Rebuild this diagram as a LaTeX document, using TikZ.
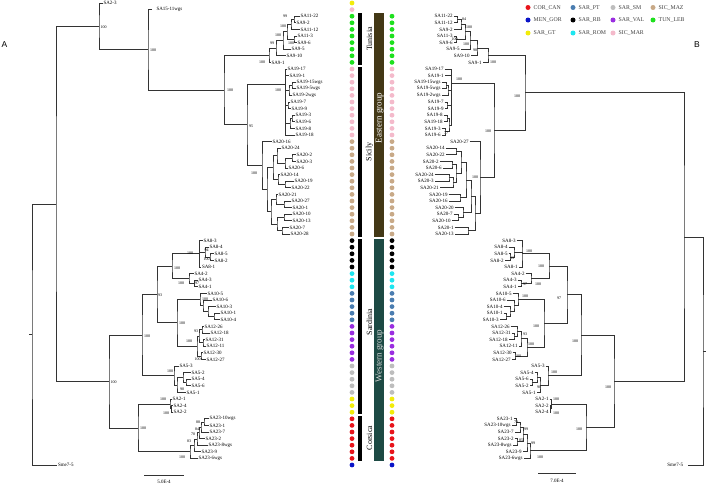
\documentclass[tikz,border=0pt]{standalone}
\usepackage{fontspec}
\setmainfont{Liberation Serif}
\newfontfamily\sansf{Liberation Sans}
\usetikzlibrary{calc}
\definecolor{corcan}{HTML}{E8141B}
\definecolor{mengor}{HTML}{0A14C8}
\definecolor{sargt}{HTML}{F2EC0A}
\definecolor{sarpt}{HTML}{4A7DB0}
\definecolor{sarrb}{HTML}{000000}
\definecolor{sarrom}{HTML}{1EE6F0}
\definecolor{sarsm}{HTML}{BDBDBD}
\definecolor{sarval}{HTML}{9A2EE0}
\definecolor{sicmar}{HTML}{F4BACB}
\definecolor{sicmaz}{HTML}{C8A987}
\definecolor{tunleb}{HTML}{1EE01E}
\definecolor{eastg}{HTML}{433816}
\definecolor{westg}{HTML}{1D4A44}
\tikzset{
  branch/.style={draw=black!80, line width=0.85pt},
  tipl/.style={anchor=west, inner sep=0.8pt, font=\fontsize{5}{5}\selectfont},
  tipr/.style={anchor=east, inner sep=0.8pt, font=\fontsize{5}{5}\selectfont},
  bsl/.style={anchor=west, inner sep=0pt, font=\fontsize{4}{4}\selectfont},
  barlab/.style={rotate=90, inner sep=0pt, font=\fontsize{8}{8}\selectfont},
  grplab/.style={rotate=90, inner sep=0pt, font=\fontsize{9}{9}\selectfont},
  legtxt/.style={anchor=west, inner sep=0pt, text=black!75, font=\fontsize{5.8}{5.8}\selectfont},
}
\newcommand\tipA[4]{\coordinate (#1) at (#2,{3+6.6*#3}); \node[tipl] at (#1) {#4};}
\newcommand\tipB[4]{\coordinate (#1) at (#2,{16.2+6.6*#3}); \node[tipr] at (#1) {#4};}
\newcommand\tclade[4]{\coordinate (tmpm) at ($(#3)!0.5!(#4)$); \coordinate (tmpx) at (#2,0);
  \coordinate (#1) at (tmpx |- tmpm); \draw[branch] (#3) -| (#1) |- (#4);}
\newcommand\bsv[3]{\node[bsl] at (#1,#2) {#3};}
\newcommand\dotrun[5]{\foreach \k in {1,...,#4} \fill[#5] (#1,{#2+6.6*(#3+\k-1)}) circle[radius=2.4pt];}
\begin{document}
\begin{tikzpicture}[x=1pt,y=-1pt]
\useasboundingbox (0,0) rectangle (707,485);
\fill[white] (0,0) rectangle (707,485);
% ================= Tree A =================
\tipA{a0}{102.5}{0}{SA2-3}
\coordinate (a1) at (152,9.6); \node[tipl] at (155.5,9.6) {SA15-11wgs};
\tipA{a2}{299.5}{2}{SA11-22}
\tipA{a3}{295.5}{3}{SA9-2}
\tipA{a4}{299.5}{4}{SA11-12}
\tipA{a5}{296.5}{5}{SA11-3}
\tipA{a6}{296.5}{6}{SA9-6}
\tipA{a7}{290.5}{7}{SA9-5}
\tipA{a8}{285.5}{8}{SA9-10}
\tipA{a9}{270.5}{9}{SA9-1}
\tipA{a10}{286.5}{10}{SA19-17}
\tipA{a11}{288.5}{11}{SA19-1}
\tipA{a12}{295.5}{12}{SA19-15wgs}
\tipA{a13}{295.5}{13}{SA19-5wgs}
\tipA{a14}{291.5}{14}{SA19-2wgs}
\tipA{a15}{289.5}{15}{SA19-7}
\tipA{a16}{290.5}{16}{SA19-9}
\tipA{a17}{294.5}{17}{SA19-3}
\tipA{a18}{294.5}{18}{SA19-6}
\tipA{a19}{294.5}{19}{SA19-8}
\tipA{a20}{294.5}{20}{SA19-18}
\tipA{a21}{271.5}{21}{SA20-16}
\tipA{a22}{280.5}{22}{SA20-24}
\tipA{a23}{295.5}{23}{SA20-2}
\tipA{a24}{295.5}{24}{SA20-3}
\tipA{a25}{287.5}{25}{SA20-6}
\tipA{a26}{279.5}{26}{SA20-14}
\tipA{a27}{293.5}{27}{SA20-19}
\tipA{a28}{290.5}{28}{SA20-22}
\tipA{a29}{277.5}{29}{SA20-21}
\tipA{a30}{290.5}{30}{SA20-27}
\tipA{a31}{291.5}{31}{SA20-1}
\tipA{a32}{291.5}{32}{SA20-10}
\tipA{a33}{291.5}{33}{SA20-13}
\tipA{a34}{288.5}{34}{SA20-7}
\tipA{a35}{289.5}{35}{SA20-28}
\tipA{a36}{202.5}{36}{SA8-3}
\tipA{a37}{208.5}{37}{SA8-4}
\tipA{a38}{213.5}{38}{SA8-5}
\tipA{a39}{213.5}{39}{SA8-2}
\tipA{a40}{201}{40}{SA8-1}
\tipA{a41}{193.5}{41}{SA4-2}
\tipA{a42}{197.5}{42}{SA4-3}
\tipA{a43}{197.5}{43}{SA4-1}
\tipA{a44}{206.5}{44}{SA10-5}
\tipA{a45}{211.5}{45}{SA10-6}
\tipA{a46}{215.5}{46}{SA10-3}
\tipA{a47}{219.5}{47}{SA10-1}
\tipA{a48}{219.5}{48}{SA10-4}
\tipA{a49}{203.5}{49}{SA12-26}
\tipA{a50}{209.5}{50}{SA12-18}
\tipA{a51}{204.5}{51}{SA12-31}
\tipA{a52}{205.5}{52}{SA12-11}
\tipA{a53}{202.5}{53}{SA12-30}
\tipA{a54}{205.5}{54}{SA12-27}
\tipA{a55}{178.5}{55}{SA5-3}
\tipA{a56}{190.5}{56}{SA5-2}
\tipA{a57}{190.5}{57}{SA5-4}
\tipA{a58}{190.5}{58}{SA5-6}
\tipA{a59}{185.5}{59}{SA5-1}
\tipA{a60}{171.5}{60}{SA2-1}
\tipA{a61}{172.5}{61}{SA2-4}
\tipA{a62}{172.5}{62}{SA2-2}
\tipA{a63}{208.5}{63}{SA23-10wgs}
\tipA{a64}{208.5}{64}{SA23-1}
\tipA{a65}{208.5}{65}{SA23-7}
\tipA{a66}{204.5}{66}{SA23-2}
\tipA{a67}{207.5}{67}{SA23-8wgs}
\tipA{a68}{200.5}{68}{SA23-9}
\tipA{a69}{197.5}{69}{SA23-6wgs}
\tipA{a70}{57}{70}{Sme7-5}
% Tunisia
\tclade{Lt1}{294}{a2}{a3}
\tclade{Lt2}{291}{Lt1}{a4}
\tclade{Lt3}{294}{a5}{a6}
\tclade{Lt4}{287}{Lt2}{Lt3}
\tclade{Lt5}{283}{Lt4}{a7}
\tclade{Lt6}{276}{Lt5}{a8}
\tclade{Lt7}{269}{Lt6}{a9}
% SIC_MAR
\tclade{Lm1}{292}{a12}{a13}
\tclade{Lm2}{289}{Lm1}{a14}
\tclade{Lm3}{288}{a15}{a16}
\tclade{Lm4}{292}{a17}{a18}
\tclade{Lm5}{290}{Lm4}{a19}
\coordinate (Lmr) at (285,84);
\draw[branch] (a10) -| (Lmr) |- (a20);
\foreach \c in {a11,Lm2,Lm3,Lm5} \draw[branch] (Lmr) |- (\c);
% SIC_MAZ
\tclade{Lz1}{292}{a23}{a24}
\tclade{Lz2}{285}{Lz1}{a25}
\tclade{Lz3}{277}{a22}{Lz2}
\tclade{Lz4}{285}{a27}{a28}
\tclade{Lz5}{278}{a26}{Lz4}
\tclade{Lz6}{273}{Lz3}{Lz5}
\tclade{Lz7}{284}{a30}{a31}
\tclade{Lz8}{276}{a29}{Lz7}
\tclade{Lz9}{284}{a32}{a33}
\tclade{Lz10}{282}{a34}{a35}
\tclade{Lz11}{277}{Lz9}{Lz10}
\tclade{Lz12}{271}{Lz8}{Lz11}
\tclade{Lz13}{267}{Lz6}{Lz12}
\tclade{Lz14}{262}{a21}{Lz13}
\tclade{LS}{247}{Lmr}{Lz14}
\tclade{LE}{224}{Lt7}{LS}
\tclade{Ln2}{148}{a1}{LE}
\tclade{Ln1}{99}{a0}{Ln2}
% Sardinia
\tclade{Lb1}{210}{a38}{a39}
\tclade{Lb2}{205}{a37}{Lb1}
\tclade{Lb3}{199.5}{a36}{a40}
\draw[branch] (Lb3) |- (Lb2);
\tclade{Lb4}{194.5}{a42}{a43}
\tclade{Lb5}{189}{a41}{Lb4}
\tclade{Lb6}{172}{Lb3}{Lb5}
\tclade{Lc1}{214}{a47}{a48}
\tclade{Lc2}{208}{a46}{Lc1}
\tclade{Lc3}{203}{a45}{Lc2}
\tclade{Lc4}{200}{a44}{Lc3}
\tclade{Lc5}{202}{a49}{a50}
\tclade{Lc6}{203}{a51}{a52}
\tclade{Lc7}{199}{Lc5}{Lc6}
\tclade{Lc8}{201}{a53}{a54}
\tclade{Lc9}{197}{Lc7}{Lc8}
\tclade{Lc10}{177}{Lc4}{Lc9}
\tclade{Lc11}{157}{Lb6}{Lc10}
\tclade{Ld1}{186}{a57}{a58}
\tclade{Ld2}{183}{a56}{Ld1}
\tclade{Ld3}{177}{Ld2}{a59}
\tclade{Ld4}{174}{a55}{Ld3}
\tclade{Lsar}{142}{Lc11}{Ld4}
% Corsica
\tclade{Le1}{171.5}{a61}{a62}
\tclade{Le2}{170}{a60}{Le1}
\tclade{Lf1}{204}{a63}{a64}
\tclade{Lf2}{201}{Lf1}{a65}
\tclade{Lf3}{199}{Lf2}{a66}
\tclade{Lf4}{197}{Lf3}{a67}
\tclade{Lf5}{194}{Lf4}{a68}
\tclade{Lf6}{190}{Lf5}{a69}
\tclade{Lcor}{138}{Le2}{Lf6}
\tclade{Lwst}{109}{Lsar}{Lcor}
\tclade{Ling}{56}{Ln1}{Lwst}
\tclade{Lroot}{32}{Ling}{a70}
\draw[branch] (Lroot) -- ++(-3,0);
% supports A
\bsv{283}{16}{99} \bsv{280}{26}{100} \bsv{275}{35}{100} \bsv{270}{43}{99}
\bsv{288}{43}{100} \bsv{259}{62.5}{100}
\bsv{100.5}{27}{100} \bsv{150}{50.5}{100} \bsv{227}{90}{100} \bsv{249}{126}{95}
\bsv{275}{90}{100} \bsv{251}{173}{100}
\bsv{110.5}{382}{100} \bsv{144}{336}{100} \bsv{158}{295}{93} \bsv{174}{268}{100}
\bsv{187}{253}{100} \bsv{204.5}{250}{94} \bsv{203.5}{259.5}{100}
\bsv{178}{283}{100} \bsv{195}{283}{97} \bsv{179}{323}{100} \bsv{202}{299.5}{100}
\bsv{194}{331}{93} \bsv{186}{341}{100} \bsv{194.5}{359.5}{100}
\bsv{167}{371}{100} \bsv{180}{389}{90}
\bsv{140}{428}{100} \bsv{160}{399}{100} \bsv{163}{413}{100}
\bsv{196}{422}{88} \bsv{195}{429}{84} \bsv{191}{434}{70} \bsv{187}{441}{83} \bsv{179}{457}{100}
% scale A
\coordinate (sa1) at (144,475); \coordinate (sa2) at (184,475);
\draw[line width=0.85pt, black!80] (sa1) -- (sa2);
\node[font=\fontsize{5}{5}\selectfont] at (164,482) {5.0E-4};
\node[font=\sansf\fontsize{8.5}{8.5}\selectfont] at (4.5,44.5) {A};
% ================= middle =================
\dotrun{352}{3}{0}{1}{sargt}
\dotrun{352}{3}{1}{1}{sicmar}
\dotrun{352}{3}{2}{8}{tunleb}
\dotrun{352}{3}{10}{11}{sicmar}
\dotrun{352}{3}{21}{15}{sicmaz}
\dotrun{352}{3}{36}{5}{sarrb}
\dotrun{352}{3}{41}{3}{sarrom}
\dotrun{352}{3}{44}{5}{sarpt}
\dotrun{352}{3}{49}{6}{sarval}
\dotrun{352}{3}{55}{5}{sarsm}
\dotrun{352}{3}{60}{3}{sargt}
\dotrun{352}{3}{63}{7}{corcan}
\dotrun{352}{3}{70}{1}{mengor}
\dotrun{392}{16.2}{0}{8}{tunleb}
\dotrun{392}{16.2}{8}{11}{sicmar}
\dotrun{392}{16.2}{19}{15}{sicmaz}
\dotrun{392}{16.2}{34}{5}{sarrb}
\dotrun{392}{16.2}{39}{3}{sarrom}
\dotrun{392}{16.2}{42}{5}{sarpt}
\dotrun{392}{16.2}{47}{6}{sarval}
\dotrun{392}{16.2}{53}{5}{sarsm}
\dotrun{392}{16.2}{58}{3}{sargt}
\dotrun{392}{16.2}{61}{7}{corcan}
\dotrun{392}{16.2}{68}{1}{mengor}
\fill[black] (358,13) rectangle (362,65);
\fill[black] (358,66.5) rectangle (362,237);
\fill[black] (358,238.5) rectangle (362,414);
\fill[black] (358,415.5) rectangle (362,461);
\fill[eastg] (374,13) rectangle (384,237);
\fill[westg] (374,238.5) rectangle (384,461);
\node[barlab] (tun) at (369.5,39) {Tunisia};
\node[barlab] (sic) at (369.5,152) {Sicily};
\node[barlab] (sar) at (369.5,322) {Sardinia};
\node[barlab] (cor) at (369.5,438) {Corsica};
\node[grplab, text=white] (eg) at (379.6,118) {Eastern group};
\node[grplab, text=white!85!black] (wg) at (379.6,356) {Western group};
% ================= Tree B =================
\tipB{b0}{453.5}{0}{SA11-22}
\tipB{b1}{453.5}{1}{SA11-12}
\tipB{b2}{453.5}{2}{SA9-2}
\tipB{b3}{453.5}{3}{SA11-3}
\tipB{b4}{453.5}{4}{SA9-6}
\tipB{b5}{460.5}{5}{SA9-5}
\tipB{b6}{470.5}{6}{SA9-10}
\tipB{b7}{482.5}{7}{SA9-1}
\tipB{b8}{444.5}{8}{SA19-17}
\tipB{b9}{444.5}{9}{SA19-1}
\tipB{b10}{441.5}{10}{SA19-15wgs}
\tipB{b11}{441.5}{11}{SA19-5wgs}
\tipB{b12}{441.5}{12}{SA19-2wgs}
\tipB{b13}{444.5}{13}{SA19-7}
\tipB{b14}{444.5}{14}{SA19-9}
\tipB{b15}{443.5}{15}{SA19-8}
\tipB{b16}{443.5}{16}{SA19-18}
\tipB{b17}{441.5}{17}{SA19-3}
\tipB{b18}{441.5}{18}{SA19-6}
\tipB{b19}{469.5}{19}{SA20-27}
\tipB{b20}{445.5}{20}{SA20-14}
\tipB{b21}{445.5}{21}{SA20-22}
\tipB{b22}{439.5}{22}{SA20-2}
\tipB{b23}{442.5}{23}{SA20-6}
\tipB{b24}{434.5}{24}{SA20-24}
\tipB{b25}{434.5}{25}{SA20-3}
\tipB{b26}{439.5}{26}{SA20-21}
\tipB{b27}{448.5}{27}{SA20-19}
\tipB{b28}{448.5}{28}{SA20-16}
\tipB{b29}{454.5}{29}{SA20-20}
\tipB{b30}{453.5}{30}{SA20-7}
\tipB{b31}{451.5}{31}{SA20-10}
\tipB{b32}{454.5}{32}{SA20-1}
\tipB{b33}{454.5}{33}{SA20-13}
\tipB{b34}{516.5}{34}{SA8-3}
\tipB{b35}{508.5}{35}{SA8-4}
\tipB{b36}{508.5}{36}{SA8-5}
\tipB{b37}{504.5}{37}{SA8-2}
\tipB{b38}{518.5}{38}{SA8-1}
\tipB{b39}{525.5}{39}{SA4-2}
\tipB{b40}{517.5}{40}{SA4-3}
\tipB{b41}{517.5}{41}{SA4-1}
\tipB{b42}{512.5}{42}{SA10-5}
\tipB{b43}{506.5}{43}{SA10-6}
\tipB{b44}{503.5}{44}{SA10-4}
\tipB{b45}{503.5}{45}{SA10-1}
\tipB{b46}{499.5}{46}{SA10-3}
\tipB{b47}{510.5}{47}{SA12-26}
\tipB{b48}{511.5}{48}{SA12-31}
\tipB{b49}{508.5}{49}{SA12-18}
\tipB{b50}{518.5}{50}{SA12-11}
\tipB{b51}{512.5}{51}{SA12-30}
\tipB{b52}{511.5}{52}{SA12-27}
\tipB{b53}{545.5}{53}{SA5-3}
\tipB{b54}{534.5}{54}{SA5-4}
\tipB{b55}{529.5}{55}{SA5-6}
\tipB{b56}{529.5}{56}{SA5-2}
\tipB{b57}{536.5}{57}{SA5-1}
\tipB{b58}{549.5}{58}{SA2-1}
\tipB{b59}{549.5}{59}{SA2-2}
\tipB{b60}{549.5}{60}{SA2-4}
\tipB{b61}{513.5}{61}{SA23-1}
\tipB{b62}{511.5}{62}{SA23-10wgs}
\tipB{b63}{514.5}{63}{SA23-7}
\tipB{b64}{514.5}{64}{SA23-2}
\tipB{b65}{512.5}{65}{SA23-8wgs}
\tipB{b66}{522.5}{66}{SA23-9}
\tipB{b67}{523.5}{67}{SA23-6wgs}
\coordinate (b68) at (688,465); \node[tipr] at (684,465) {Sme7-5};
% Tunisia B
\tclade{Rr1}{457}{b0}{b1}
\tclade{Rr2}{461}{Rr1}{b2}
\tclade{Rr3}{456}{b3}{b4}
\tclade{Rr4}{465}{Rr2}{Rr3}
\tclade{Rr5}{470}{Rr4}{b5}
\tclade{Rr6}{477}{Rr5}{b6}
\tclade{Rr7}{488}{Rr6}{b7}
% SIC_MAR B
\tclade{Rq1}{446}{b10}{b11}
\tclade{Rq2}{448}{Rq1}{b12}
\tclade{Rq3}{447}{b13}{b14}
\tclade{Rq4}{447}{b15}{b16}
\tclade{Rq5}{445}{b17}{b18}
\tclade{Rq6}{449}{Rq4}{Rq5}
\coordinate (Rqr) at (451,83);
\draw[branch] (b8) -| (Rqr) |- (Rq6);
\foreach \c in {b9,Rq2,Rq3} \draw[branch] (Rqr) |- (\c);
% SIC_MAZ B
\tclade{Rs1}{456}{b20}{b21}
\tclade{Rs2}{452}{b22}{b23}
\tclade{Rs3}{449}{b24}{b25}
\tclade{Rs4}{453}{Rs3}{b26}
\tclade{Rs5}{456}{Rs2}{Rs4}
\tclade{Rs6}{461}{Rs1}{Rs5}
\tclade{Rs7}{460}{b27}{b28}
\tclade{Rs8}{466}{Rs6}{Rs7}
\tclade{Rs9}{458}{b30}{b31}
\tclade{Rs10}{463}{b29}{Rs9}
\tclade{Rs11}{471}{Rs8}{Rs10}
\tclade{Rs12}{468}{b32}{b33}
\tclade{Rs13}{475}{Rs11}{Rs12}
\tclade{Rs14}{480}{b19}{Rs13}
\tclade{Rsic}{494}{Rqr}{Rs14}
\tclade{Reas}{525}{Rr7}{Rsic}
% Sardinia B
\tclade{Rg1}{510}{b36}{b37}
\tclade{Rg2}{514}{b35}{Rg1}
\tclade{Rg3}{522}{b34}{b38}
\draw[branch] (Rg3) |- (Rg2);
\tclade{Rg4}{521}{b40}{b41}
\tclade{Rg5}{531}{b39}{Rg4}
\tclade{Rg6}{549}{Rg3}{Rg5}
\tclade{Rh1}{506}{b45}{b46}
\tclade{Rh2}{510}{b44}{Rh1}
\tclade{Rh3}{514}{b43}{Rh2}
\tclade{Rh4}{518}{b42}{Rh3}
\tclade{Rh5}{514}{b48}{b49}
\tclade{Rh6}{517}{b47}{Rh5}
\tclade{Rh7}{521}{Rh6}{b50}
\tclade{Rh8}{515}{b51}{b52}
\tclade{Rh9}{527}{Rh7}{Rh8}
\tclade{Rh10}{544}{Rh4}{Rh9}
\tclade{Rsar}{567}{Rg6}{Rh10}
\tclade{Rk1}{532}{b55}{b56}
\tclade{Rk2}{537}{b54}{Rk1}
\tclade{Rk3}{540}{Rk2}{b57}
\tclade{Rk4}{548}{b53}{Rk3}
\tclade{Rn581}{581}{Rsar}{Rk4}
% Corsica B
\tclade{Rk5}{550.5}{b59}{b60}
\tclade{Rk6}{551.5}{b58}{Rk5}
\tclade{Rw1}{516}{b61}{b62}
\tclade{Rw2}{520}{Rw1}{b63}
\tclade{Rw3}{517}{b64}{b65}
\tclade{Rw4}{523}{Rw2}{Rw3}
\tclade{Rw5}{527}{Rw4}{b66}
\tclade{Rw6}{530}{Rw5}{b67}
\tclade{Rcor}{586}{Rk6}{Rw6}
\tclade{Rwst}{614}{Rn581}{Rcor}
\tclade{Ring}{684}{Reas}{Rwst}
\tclade{Rroot}{703}{Ring}{b68}
\draw[branch] (Rroot) -- ++(3,0);
% supports B
\bsv{462}{19.5}{84} \bsv{466}{27.5}{100} \bsv{451.5}{39.5}{100} \bsv{463}{44.5}{100}
\bsv{473}{50}{98} \bsv{490}{62.5}{100}
\bsv{456}{79}{100} \bsv{444}{133}{77}
\bsv{514}{96.5}{100} \bsv{485}{131}{100} \bsv{472}{177.5}{100}
\bsv{526}{251}{100} \bsv{510}{258}{93} \bsv{538}{266}{100}
\bsv{523}{284}{97} \bsv{535}{284}{100} \bsv{522}{296.5}{100} \bsv{557}{298}{97}
\bsv{523}{334}{93} \bsv{515}{356.5}{100} \bsv{528}{344}{100} \bsv{533}{326}{100}
\bsv{551}{372.5}{100} \bsv{537}{387.5}{90} \bsv{572}{341}{100}
\bsv{553}{399}{100} \bsv{553}{413}{100}
\bsv{514}{422}{78} \bsv{524}{429}{99} \bsv{519}{440}{85} \bsv{531}{443}{99} \bsv{537}{457}{100}
\bsv{576}{429}{100} \bsv{605}{387}{100}
% scale B
\coordinate (sb1) at (538,473); \coordinate (sb2) at (576,473);
\draw[line width=0.85pt, black!80] (sb1) -- (sb2);
\node[font=\fontsize{5}{5}\selectfont] at (557,481) {7.0E-4};
\node[font=\sansf\fontsize{8.5}{8.5}\selectfont] at (697,45) {B};
% legend
\foreach \x/\y/\c/\t in {528/7.5/corcan/COR\_CAN, 528/20/mengor/MEN\_GOR, 528/33/sargt/SAR\_GT,
  573/7.5/sarpt/SAR\_PT, 573/20/sarrb/SAR\_RB, 573/33/sarrom/SAR\_ROM,
  613/7.5/sarsm/SAR\_SM, 613/20/sarval/SAR\_VAL, 613/33/sicmar/SIC\_MAR,
  653/7.5/sicmaz/SIC\_MAZ, 653/20/tunleb/TUN\_LEB}
{\fill[\c] (\x,\y) circle[radius=2.5pt]; \node[legtxt] at (\x+5.5,\y) {\t};}
\end{tikzpicture}
\end{document}
